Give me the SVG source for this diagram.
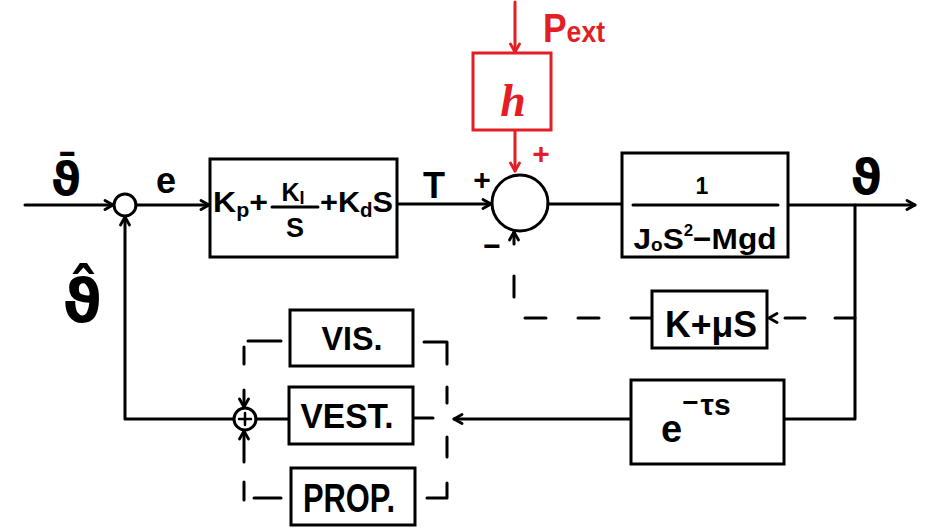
<svg xmlns="http://www.w3.org/2000/svg" width="935" height="530" viewBox="0 0 935 530">
<style>
.ln{fill:none;stroke:#000;stroke-width:3;stroke-linecap:round;stroke-linejoin:round}
.rd{fill:none;stroke:#e31e24;stroke-width:3;stroke-linecap:round}
.bx{fill:#fff;stroke:#000;stroke-width:3}
.rbx{fill:#fff;stroke:#e31e24;stroke-width:3}
.t{font-family:"Liberation Sans",Arial,sans-serif;font-weight:bold;fill:#000}
.g{font-family:"DejaVu Sans",sans-serif;font-weight:bold;fill:#000}
.red{fill:#e31e24}
.dash{stroke-dasharray:21 32}
</style>
<defs>
<marker id="arr" viewBox="0 0 12 12" refX="10" refY="6" markerWidth="12" markerHeight="12" markerUnits="userSpaceOnUse" orient="auto">
<path d="M2,1.5 L10,6 L2,10.5" fill="none" stroke="#000" stroke-width="2.8" stroke-linecap="round" stroke-linejoin="round"/>
</marker>
<marker id="arrR" viewBox="0 0 12 12" refX="10" refY="6" markerWidth="12" markerHeight="12" markerUnits="userSpaceOnUse" orient="auto">
<path d="M2,1.5 L10,6 L2,10.5" fill="none" stroke="#e31e24" stroke-width="2.8" stroke-linecap="round" stroke-linejoin="round"/>
</marker>
</defs>
<rect width="935" height="530" fill="#fff"/>

<g id="connectors">
<path class="ln" d="M25,205 H113" marker-end="url(#arr)"/>
<path class="ln" d="M136,205 H209" marker-end="url(#arr)"/>
<path class="ln" d="M233,419 H125 V217" marker-end="url(#arr)"/>
<path class="ln" d="M397,204 H491" marker-end="url(#arr)"/>
<path class="ln" d="M548,204 H622"/>
<path class="ln" d="M788,205 H915" marker-end="url(#arr)"/>
<path class="ln" d="M855,205 V419 H784"/>
<path class="ln" d="M631,419 H454" marker-end="url(#arr)"/>
<path class="ln" d="M855,318 H769" style="stroke-dasharray:20 30" marker-end="url(#arr)"/>
<path class="ln dash" d="M652,318 H514 V232" marker-end="url(#arr)"/>
<path class="rd" d="M515,2 V52" marker-end="url(#arrR)"/>
<path class="rd" d="M515,131 V171" marker-end="url(#arrR)"/>
<path class="ln" d="M256,419 H289"/>
<path class="ln" d="M413,418 H433"/>
<path class="ln" d="M248,341 H281 M244,347 V364 M244,482 V500 M254,498 H281"/>
<path class="ln" d="M244,390 V407" marker-end="url(#arr)"/>
<path class="ln" d="M244,462 V431" marker-end="url(#arr)"/>
<path class="ln" d="M424,342 H447 V364 M447,387 V403 M447,437 V457 M447,483 V498 H427"/>
</g>

<g id="sum1">
<circle class="ln" cx="125" cy="205" r="11"/>
</g>

<g id="pid">
<rect class="bx" x="210" y="159" width="187" height="98"/>
<text class="t" x="213" y="212" font-size="30" textLength="55" lengthAdjust="spacingAndGlyphs">K<tspan font-size="20" dy="5">p</tspan><tspan dy="-5">+</tspan></text>
<text class="t" x="293" y="201" font-size="25" text-anchor="middle">K<tspan font-size="18" dy="3">I</tspan></text>
<path class="ln" d="M272,207 H318"/>
<text class="t" x="295" y="237" font-size="27" text-anchor="middle">S</text>
<text class="t" x="320" y="212" font-size="30" textLength="73" lengthAdjust="spacingAndGlyphs">+K<tspan font-size="20" dy="5">d</tspan><tspan dy="-5">S</tspan></text>
</g>

<g id="sum2">
<circle class="ln" cx="520" cy="203" r="28"/>
</g>

<g id="h">
<rect class="rbx" x="473" y="53" width="78" height="77"/>
<text x="513" y="116" font-family="Liberation Serif,serif" font-style="italic" font-weight="bold" font-size="46" text-anchor="middle" class="red">h</text>
</g>

<g id="plant">
<rect class="bx" x="622" y="153" width="166" height="104"/>
<text class="t" x="702" y="194" font-size="23" text-anchor="middle">1</text>
<path class="ln" d="M633,205 H778"/>
<text class="t" x="705" y="249" font-size="30" text-anchor="middle" textLength="143" lengthAdjust="spacingAndGlyphs">J<tspan font-size="18" dy="2">o</tspan><tspan dy="-2">S</tspan><tspan font-size="16" dy="-13">2</tspan><tspan dy="13">−Mgd</tspan></text>
</g>

<g id="kmu">
<rect class="bx" x="652" y="291" width="115" height="57"/>
<text class="t" x="711" y="337" font-size="36" text-anchor="middle" textLength="92" lengthAdjust="spacingAndGlyphs">K+μS</text>
</g>

<g id="delay">
<rect class="bx" x="631" y="380" width="153" height="84"/>
<text class="t" x="661" y="442" font-size="38">e<tspan font-size="28" dy="-30">−</tspan><tspan font-size="30" dx="2" dy="3">τs</tspan></text>
</g>

<g id="vis">
<rect class="bx" x="290" y="310" width="123" height="56"/>
<text class="t" x="352" y="350" font-size="34" text-anchor="middle" textLength="61" lengthAdjust="spacingAndGlyphs">VIS.</text>
</g>

<g id="vest">
<rect class="bx" x="289" y="387" width="124" height="57"/>
<text class="t" x="347" y="428" font-size="35" text-anchor="middle" textLength="93" lengthAdjust="spacingAndGlyphs">VEST.</text>
</g>

<g id="prop">
<rect class="bx" x="291" y="468" width="124" height="57"/>
<text class="t" x="349" y="512" font-size="41" text-anchor="middle" textLength="92" lengthAdjust="spacingAndGlyphs">PROP.</text>
</g>

<g id="sum3">
<circle class="ln" cx="245" cy="419" r="11"/>
<path class="ln" d="M245,413 V425 M239,419 H251" style="stroke-width:2.5"/>
</g>

<g id="labels">
<text class="g" x="66" y="195" font-size="46" text-anchor="middle">ϑ̄</text>
<text class="t" x="166" y="193" font-size="36" text-anchor="middle">e</text>
<text class="g" x="82" y="322" font-size="60" text-anchor="middle">ϑ̂</text>
<text class="t" x="434" y="198" font-size="36" text-anchor="middle">T</text>
<text class="t" x="482" y="190" font-size="30" text-anchor="middle">+</text>
<text class="t" x="492" y="256" font-size="30" text-anchor="middle">−</text>
<text class="t red" x="541" y="164" font-size="30" text-anchor="middle">+</text>
<text class="t red" x="543" y="42" font-size="40" textLength="62" lengthAdjust="spacingAndGlyphs">P<tspan font-size="30">ext</tspan></text>
<text class="g" x="866" y="194" font-size="48" text-anchor="middle">ϑ</text>
</g>
</svg>
